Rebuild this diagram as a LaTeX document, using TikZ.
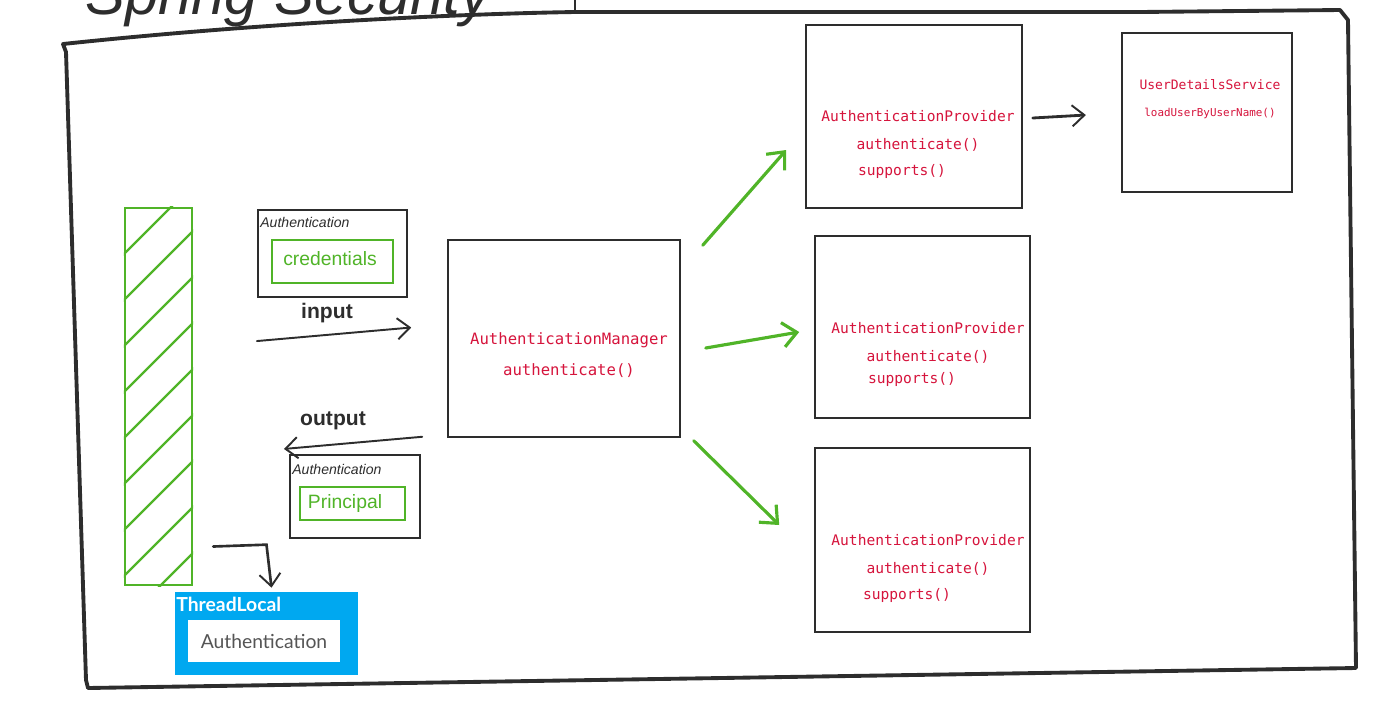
\documentclass[tikz,border=0pt]{standalone}
\usepackage{fontspec}
\setmainfont{Liberation Sans}
\newfontfamily\monofont{DejaVu Sans Mono}
\newfontfamily\latofont{Lato}
\usetikzlibrary{arrows.meta,calc}
\definecolor{codered}{RGB}{214,20,60}
\definecolor{sketchgreen}{RGB}{80,180,40}
\definecolor{tlblue}{RGB}{0,168,240}
\definecolor{ink}{RGB}{45,45,45}
\definecolor{txtgray}{RGB}{85,85,85}
\begin{document}
\begin{tikzpicture}[x=0.02cm,y=-0.02cm,
  frame/.style={draw=ink,line width=2.2pt,line join=round,line cap=round},
  sketchbox/.style={draw=ink,line width=0.9pt,inner sep=0pt,fill=white},
  greenbox/.style={draw=sketchgreen,line width=0.9pt,inner sep=0pt},
  codetxt/.style={text=codered,font=\monofont\fontsize{8.3}{10}\selectfont,inner sep=0pt},
  smallcode/.style={text=codered,font=\monofont\fontsize{7}{8}\selectfont,inner sep=0pt},
  handtxt/.style={text=ink,font=\fontsize{8}{9}\selectfont\itshape,inner sep=0pt},
  greentxt/.style={text=sketchgreen,font=\fontsize{11}{12}\selectfont,inner sep=0pt},
  boldtxt/.style={text=ink,font=\fontsize{12}{13}\selectfont\bfseries,inner sep=0pt},
  blackarrow/.style={draw=ink,line width=1.1pt,line cap=round,-{Straight Barb[length=7pt,width=12pt,line width=1.1pt]}},
  greenarrow/.style={draw=sketchgreen,line width=1.8pt,line cap=round,-{Straight Barb[length=8pt,width=14pt,line width=1.8pt]}},
  hatch/.style={draw=sketchgreen,line width=1.3pt,line cap=round}
]
\useasboundingbox (0,0) rectangle (1374,708);

% cut-off title
\begin{scope}
\clip (0,0) rectangle (1374,708);
\node[anchor=base west,inner sep=0pt,text=ink,font=\fontsize{34}{36}\selectfont\itshape] (title) at (85,14) {Spring Security};
\draw[frame,line width=1.5pt] (575,0) -- (575,12);
\end{scope}

% outer frame
\draw[frame] (63,44) .. controls (250,24) and (450,14) .. (575,12) -- (1140,12) -- (1340,10) -- (1348,20) -- (1356,668) -- (88,688) -- (86,680) -- (66,52) -- cycle;

% providers and services
\node[sketchbox,minimum width=4.32cm,minimum height=3.66cm] (p1) at (914,116.5) {};
\node[sketchbox,minimum width=4.3cm,minimum height=3.64cm] (p2) at (922.5,327) {};
\node[sketchbox,minimum width=4.3cm,minimum height=3.68cm] (p3) at (922.5,540) {};
\node[sketchbox,line width=1.3pt,minimum width=3.4cm,minimum height=3.18cm] (uds) at (1207,112.5) {};
\node[sketchbox,minimum width=4.64cm,minimum height=3.94cm] (mgr) at (564,338.5) {};

\node[codetxt] (p1a) at (918,116) {AuthenticationProvider};
\node[codetxt] (p1b) at (918,145) {authenticate()};
\node[codetxt] (p1c) at (902,171) {supports()};
\node[codetxt] (p2a) at (928,328) {AuthenticationProvider};
\node[codetxt] (p2b) at (928,357) {authenticate()};
\node[codetxt] (p2c) at (912,379) {supports()};
\node[codetxt] (p3a) at (928,540) {AuthenticationProvider};
\node[codetxt] (p3b) at (928,569) {authenticate()};
\node[codetxt] (p3c) at (907,595) {supports()};
\node[smallcode,font=\monofont\fontsize{7.4}{8}\selectfont] (udsa) at (1210,85) {UserDetailsService};
\node[smallcode,font=\monofont\fontsize{6.2}{7}\selectfont] (udsb) at (1210,113) {loadUserByUserName()};
\node[codetxt,font=\monofont\fontsize{8.9}{10}\selectfont] (mgra) at (569,340) {AuthenticationManager};
\node[codetxt,font=\monofont\fontsize{8.9}{10}\selectfont] (mgrb) at (569,371) {authenticate()};

% authentication objects
\node[sketchbox,line width=1.2pt,minimum width=2.98cm,minimum height=1.74cm] (authin) at (332.5,253.5) {};
\node[greenbox,minimum width=2.42cm,minimum height=0.86cm] (cred) at (332.5,261.5) {};
\node[greentxt] (credt) at (330,259) {credentials};
\node[handtxt,anchor=west] (authint) at (260,222) {Authentication};

\node[sketchbox,line width=1.2pt,minimum width=2.6cm,minimum height=1.66cm] (authout) at (355,496.5) {};
\node[greenbox,minimum width=2.1cm,minimum height=0.66cm] (princ) at (352.5,503.5) {};
\node[greentxt] (princt) at (345,503) {Principal};
\node[handtxt,anchor=west] (authoutt) at (292,469) {Authentication};

\node[boldtxt] (inputt) at (327,313) {input};
\node[boldtxt] (outputt) at (333,421) {output};

% security context bar
\node[draw=sketchgreen,line width=1.4pt,minimum width=1.34cm,minimum height=7.54cm,inner sep=0pt] (bar) at (158.5,396.5) {};
\begin{scope}
\clip (bar.south west) rectangle (bar.north east);
\foreach \y in {250,296,342,388,434,480,526,572,618}{
  \draw[hatch] (122,\y+6) -- (198,\y-70);
}
\end{scope}

% thread local
\node[fill=tlblue,minimum width=3.66cm,minimum height=1.66cm,inner sep=0pt] (tl) at (266.5,633.5) {};
\node[anchor=west,text=white,font=\latofont\fontsize{11}{12}\selectfont\bfseries,inner sep=0pt] (tlt) at (176,604) {ThreadLocal};
\node[fill=white,minimum width=3.04cm,minimum height=0.84cm,inner sep=0pt] (tlin) at (264,641) {};
\node[text=txtgray,font=\latofont\fontsize{11}{12}\selectfont,inner sep=0pt] (tlint) at (264,641) {Authentication};

% connectors
\coordinate (tlstart) at ($(bar.east)+(20,150)$);
\draw[blackarrow,line width=1.5pt] (tlstart) -- ($(tl.north)+(0,-47)$) -- ($(tl.north)+(5,-4)$);
\draw[blackarrow] ($(authin.south west)+(0,43)$) -- ($(mgr.west)+(-36,-11)$);
\draw[blackarrow] ($(mgr.south west)+(-25,-1)$) -- ($(authout.north west)+(-5,-5)$);
\draw[greenarrow] ($(mgr.north east)+(22,6)$) -- ($(p1.west)+(-19,33.5)$);
\draw[greenarrow] ($(mgr.east)+(25,9.5)$) -- ($(p2.west)+(-15,5)$);
\draw[greenarrow] ($(mgr.south east)+(13,3)$) -- ($(p3.west)+(-35,-15)$);
\draw[blackarrow,line width=1.6pt] ($(p1.east)+(10,1.5)$) -- ($(uds.west)+(-35,2.5)$);
\end{tikzpicture}
\end{document}
